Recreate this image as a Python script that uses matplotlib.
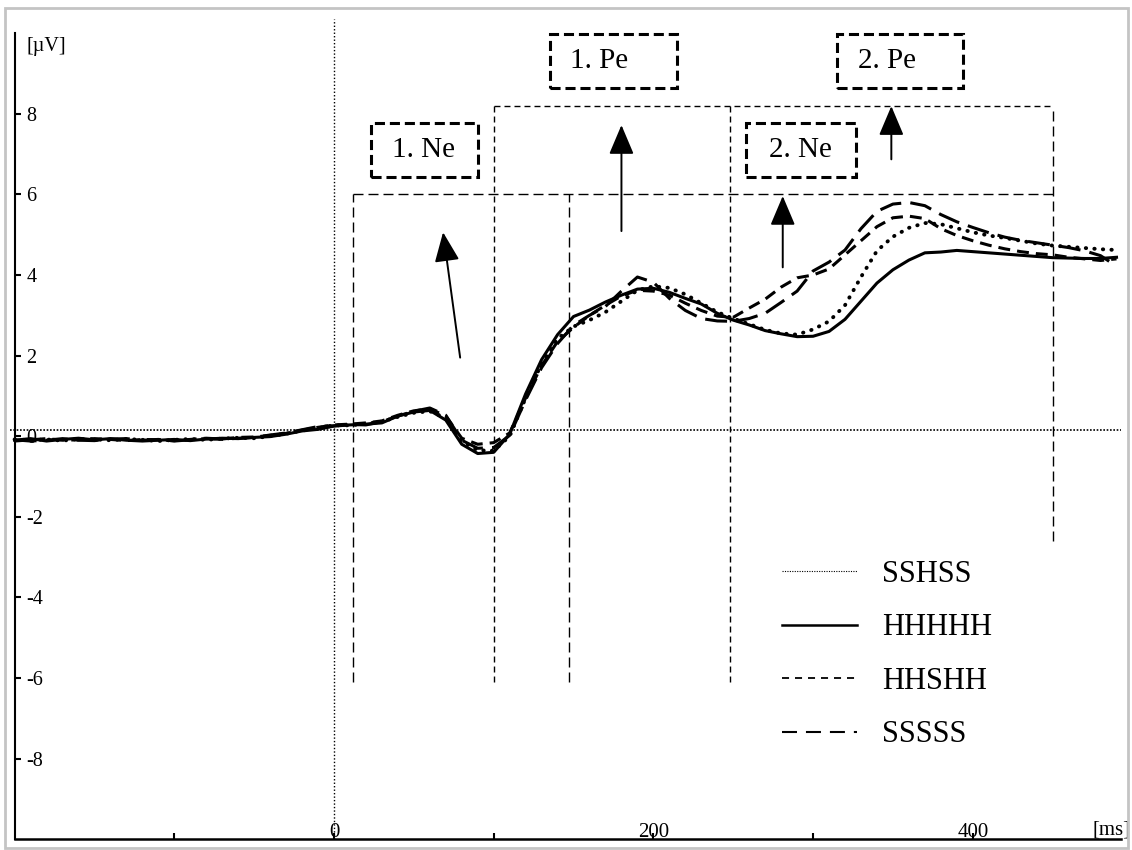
import matplotlib
matplotlib.use("Agg")
import matplotlib.pyplot as plt
from matplotlib.lines import Line2D
from matplotlib.patches import Rectangle, ArrowStyle

plt.rcParams['font.family'] = ['Liberation Serif', 'DejaVu Serif']

# grand-average ERP, time in ms relative to response, amplitude in microvolts
t_ms = [-200, -190, -180, -170, -160, -150, -140, -130, -120, -110,
        -100, -90, -80, -70, -60, -50, -40, -30, -20, -10,
        0, 10, 20, 30, 40, 50, 60, 70, 80, 90,
        100, 110, 120, 130, 140, 150, 160, 170, 180, 190,
        200, 210, 220, 230, 240, 250, 260, 270, 280, 290,
        300, 310, 320, 330, 340, 350, 360, 370, 380, 390,
        400, 410, 420, 430, 440, 450, 460, 470, 480, 490]

sshss = [-0.08, -0.10, -0.08, -0.11, -0.07, -0.08, -0.10, -0.07, -0.09, -0.12,
         -0.09, -0.07, -0.09, -0.06, -0.04, -0.05, 0.00, 0.06, 0.14, 0.20,
         0.27, 0.27, 0.31, 0.36, 0.48, 0.58, 0.62, 0.45, -0.12, -0.35,
         -0.36, 0.00, 0.95, 1.80, 2.42, 2.72, 2.88, 3.08, 3.35, 3.62,
         3.72, 3.68, 3.52, 3.30, 3.08, 2.92, 2.78, 2.64, 2.55, 2.52,
         2.65, 2.85, 3.25, 3.95, 4.60, 4.95, 5.17, 5.29, 5.26, 5.16,
         5.06, 4.98, 4.92, 4.85, 4.78, 4.73, 4.70, 4.67, 4.64, 4.62]

hhhhh = [-0.10, -0.06, -0.12, -0.08, -0.05, -0.09, -0.06, -0.10, -0.12, -0.10,
         -0.08, -0.11, -0.07, -0.05, -0.06, -0.03, -0.01, 0.05, 0.13, 0.17,
         0.25, 0.28, 0.30, 0.33, 0.50, 0.60, 0.64, 0.40, -0.20, -0.43,
         -0.40, 0.05, 1.05, 1.90, 2.52, 2.97, 3.13, 3.33, 3.50, 3.65,
         3.67, 3.57, 3.42, 3.28, 3.05, 2.88, 2.76, 2.62, 2.54, 2.47,
         2.48, 2.60, 2.90, 3.35, 3.80, 4.13, 4.37, 4.55, 4.57, 4.61,
         4.58, 4.55, 4.52, 4.49, 4.46, 4.43, 4.42, 4.41, 4.41, 4.44]

hhshh = [-0.12, -0.09, -0.06, -0.10, -0.09, -0.06, -0.08, -0.11, -0.08, -0.09,
         -0.11, -0.08, -0.05, -0.07, -0.03, -0.02, 0.02, 0.07, 0.15, 0.22,
         0.28, 0.30, 0.33, 0.38, 0.52, 0.63, 0.68, 0.50, -0.05, -0.20,
         -0.16, 0.08, 0.95, 1.75, 2.35, 2.70, 3.00, 3.25, 3.48, 3.62,
         3.60, 3.50, 3.30, 3.12, 2.98, 2.95, 3.18, 3.40, 3.70, 3.93,
         4.00, 4.15, 4.50, 4.85, 5.20, 5.42, 5.46, 5.40, 5.15, 4.98,
         4.85, 4.74, 4.65, 4.58, 4.53, 4.50, 4.44, 4.40, 4.36, 4.40]

sssss = [-0.09, -0.12, -0.10, -0.06, -0.10, -0.11, -0.07, -0.06, -0.10, -0.08,
         -0.12, -0.09, -0.06, -0.08, -0.05, -0.03, 0.03, 0.08, 0.16, 0.24,
         0.26, 0.29, 0.28, 0.36, 0.50, 0.62, 0.70, 0.52, -0.10, -0.30,
         -0.28, 0.02, 0.90, 1.70, 2.30, 2.75, 3.00, 3.22, 3.60, 3.95,
         3.82, 3.42, 3.12, 2.92, 2.86, 2.85, 2.92, 3.05, 3.32, 3.60,
         4.10, 4.32, 4.62, 5.15, 5.58, 5.76, 5.80, 5.72, 5.50, 5.32,
         5.18, 5.05, 4.94, 4.86, 4.80, 4.74, 4.68, 4.60, 4.48, 4.22]

conditions = ['SSHSS', 'HHHHH', 'HHSHH', 'SSSSS']
baseline_uv = 0.15

# scoring windows for Ne / Pe
ne_edges_ms = [12, 147]
pe_edges_ms = [100, 248]
window_end_ms = 450
ne_top_uv = 6.0
pe_top_uv = 8.2
window_bottom_uv = -6.1
end_bottom_uv = -2.6

box_labels = ['1. Ne', '1. Pe', '2. Ne', '2. Pe']
box_x = [(23, 90), (135, 215), (258, 327), (315, 394)]
box_y = [(6.42, 7.77), (8.64, 9.98), (6.42, 7.77), (8.64, 9.98)]
label_x = [56, 166, 292, 346]

arrow_tails = [(79, 1.95), (180, 5.09), (281, 4.19), (349, 6.87)]
arrow_tips = [(68.3, 5.06), (180, 7.72), (281, 5.96), (349, 8.19)]

x_ticks = [-100, 0, 100, 200, 300, 400]
x_ticklabels = ['', '0', '', '200', '', '400']
y_ticks = [-8, -6, -4, -2, 0, 2, 4, 6, 8]

fig = plt.figure(figsize=(11.32, 8.5), dpi=100)
ax = fig.add_axes([0.00866, 0.01271, 0.98189, 0.96482])
ax.set_xlim(-203, 493)
ax.set_ylim(-10, 10.35)

# reference lines
ax.axvline(0, color='black', lw=1.0, ls=(0, (1, 1.5)), zorder=1)
ax.axhline(baseline_uv, color='black', lw=1.2, ls=(0, (1, 1.0)), zorder=1)

# window outlines
long_dash = (0, (7.2, 3.6))
short_dash = (0, (4.3, 2.9))
for x in ne_edges_ms:
    ax.plot([x, x], [window_bottom_uv, ne_top_uv], color='black', lw=1.0, ls=long_dash)
for x in pe_edges_ms:
    ax.plot([x, x], [window_bottom_uv, pe_top_uv], color='black', lw=1.0, ls=short_dash)
ax.plot([ne_edges_ms[0], window_end_ms], [ne_top_uv, ne_top_uv], color='black', lw=1.0, ls=long_dash)
ax.plot([pe_edges_ms[0], window_end_ms], [pe_top_uv, pe_top_uv], color='black', lw=1.0, ls=short_dash)
ax.plot([window_end_ms, window_end_ms], [end_bottom_uv, pe_top_uv], color='black', lw=1.0, ls=long_dash)

# component labels in dashed boxes
for lab, (x0, x1), (y0, y1), tx in zip(box_labels, box_x, box_y, label_x):
    ax.add_patch(Rectangle((x0, y0), x1 - x0, y1 - y0, fill=False, edgecolor='black',
                           lw=2.2, ls=(0, (3.3, 1.6))))
    ax.text(tx, (y0 + y1) / 2, lab, fontsize=21, ha='center', va='center')

head = ArrowStyle('-|>', head_length=1.3, head_width=0.55)
for tail, tip in zip(arrow_tails, arrow_tips):
    ax.annotate('', xy=tip, xytext=tail,
                arrowprops=dict(arrowstyle=head, mutation_scale=14, lw=1.4, color='black',
                                shrinkA=0, shrinkB=0))

# waveforms
ax.plot(t_ms, sshss, color='black', lw=2.8, ls=(0, (0.1, 2.1)), dash_capstyle='round', zorder=5)
ax.plot(t_ms, hhhhh, color='black', lw=2.2, zorder=5)
ax.plot(t_ms, hhshh, color='black', lw=2.2, ls=(0, (3.9, 2.3)), zorder=5)
ax.plot(t_ms, sssss, color='black', lw=2.2, ls=(0, (7.2, 3.0)), zorder=5)

handles = [
    Line2D([], [], color='black', lw=0.8, ls=(0, (1, 1.2))),
    Line2D([], [], color='black', lw=1.8),
    Line2D([], [], color='black', lw=1.3, ls=(0, (3.9, 3.3))),
    Line2D([], [], color='black', lw=1.5, ls=(0, (7.2, 4.3))),
]
ax.legend(handles, conditions, loc='upper left', bbox_to_anchor=(0.6945, 0.3404),
          frameon=False, fontsize=22, borderpad=0, borderaxespad=0,
          handlelength=2.45, handletextpad=0.82, labelspacing=0.8)

# axes styling
for side in ['top', 'right']:
    ax.spines[side].set_visible(False)
ax.spines['left'].set_position(('data', -200))
ax.spines['left'].set_bounds(-10, 10)
ax.spines['bottom'].set_bounds(-200, 493)
ax.spines['left'].set_linewidth(1.5)
ax.spines['bottom'].set_linewidth(1.8)

ax.set_xticks(x_ticks)
ax.set_xticklabels(x_ticklabels)
ax.set_yticks(y_ticks)
ax.set_yticklabels([str(v) for v in y_ticks])
ax.tick_params(axis='y', direction='in', length=4, width=1.5, pad=-8.5, labelsize=14.5)
ax.tick_params(axis='x', direction='in', length=4, width=1.5, pad=2, labelsize=15)
plt.setp(ax.get_yticklabels(), ha='left')
plt.setp(ax.get_xticklabels(), va='bottom')

ax.text(-180, 9.68, '[\u00b5V]', fontsize=14.5, ha='center', va='center')
ax.text(487, -9.78, '[ms]', fontsize=15, ha='center', va='center')

# light grey frame round the figure
fig.patches.append(Rectangle((0.0044, 0.0024), 0.9921, 0.9882, transform=fig.transFigure,
                             fill=False, edgecolor='#c4c4c4', lw=2))

fig.savefig('out.png', dpi=100)
